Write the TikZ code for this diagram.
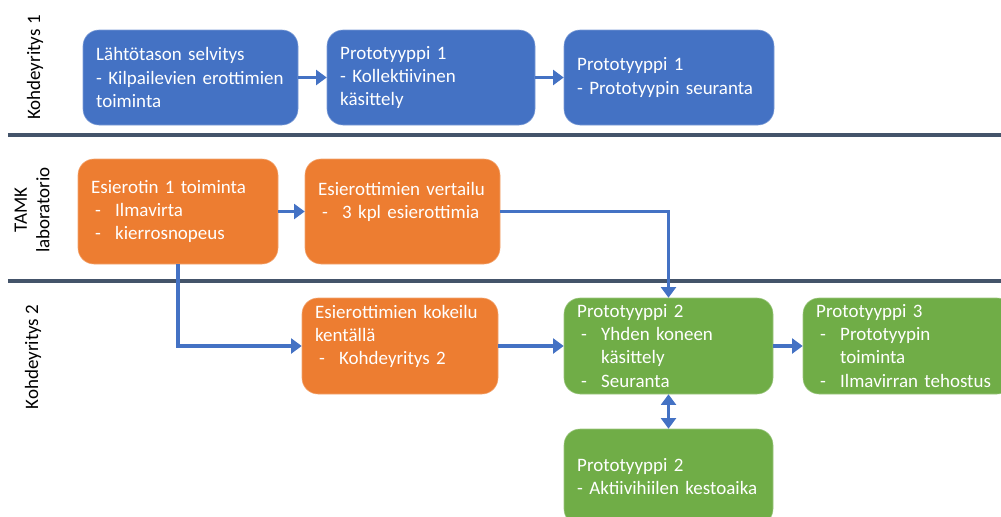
\documentclass[tikz,border=0pt]{standalone}
\usepackage{fontspec}
\setmainfont{Carlito}
\usetikzlibrary{arrows.meta}

\definecolor{officeblue}{HTML}{4472C4}
\definecolor{officeorange}{HTML}{ED7D31}
\definecolor{officegreen}{HTML}{70AD47}
\definecolor{slate}{HTML}{44546A}

\newcommand{\dashitem}{\makebox[0.6cm][l]{\hspace{0.1cm}-}}
\newcommand{\hang}{\hspace*{0.6cm}}

\tikzset{
  stage/.style={rounded corners=0.4cm, text=white, align=left, inner xsep=0.33cm, inner ysep=0pt,
    font=\fontsize{13.5}{16.4}\selectfont},
  bluestage/.style={stage, fill=officeblue, draw=officeblue!70!white},
  orangestage/.style={stage, fill=officeorange, draw=officeorange!70!white},
  greenstage/.style={stage, fill=officegreen, draw=officegreen!70!white},
  flow/.style={officeblue, line width=2.4pt, -{Triangle[length=7.5pt,width=10.5pt]}},
  lane/.style={slate, line width=2.4pt},
  lanelabel/.style={rotate=90, align=center, font=\fontsize{13.5}{16}\selectfont}
}

\begin{document}
\begin{tikzpicture}
  \useasboundingbox (0,0) rectangle (25.025,-12.9);

  % Lane labels and separators
  \node[lanelabel] (lane1) at (0.875,-1.69) {Kohdeyritys 1};
  \node[lanelabel] (lane2) at (0.8,-5.25) {TAMK\\laboratorio};
  \node[lanelabel] (lane3) at (0.825,-8.925) {Kohdeyritys 2};
  \draw[lane] (0.2,-3.375) -- (25.025,-3.375);
  \draw[lane] (0.2,-7.025) -- (25.025,-7.025);

  % Kohdeyritys 1
  \node[bluestage, text width=4.715cm, minimum height=2.375cm] (selvitys) at (4.7625,-1.9375)
    {Lähtötason selvitys\\- Kilpailevien erottimien\\toiminta};
  \node[bluestage, text width=4.54cm, minimum height=2.375cm] (protoa) at (10.775,-1.9375)
    {Prototyyppi 1\\- Kollektiivinen\\käsittely};
  \node[bluestage, text width=4.59cm, minimum height=2.375cm] (protob) at (16.725,-1.9375)
    {Prototyyppi 1\\- Prototyypin seuranta};

  % TAMK laboratorio
  \node[orangestage, text width=4.34cm, minimum height=2.625cm] (esierotin) at (4.45,-5.2875)
    {Esierotin 1 toiminta\\\dashitem Ilmavirta\\\dashitem kierrosnopeus};
  \node[orangestage, text width=4.215cm, minimum height=2.625cm] (vertailu) at (10.0625,-5.2875)
    {Esierottimien vertailu\\\dashitem 3 kpl esierottimia\\~};

  % Kohdeyritys 2
  \node[orangestage, text width=4.24cm, minimum height=2.4cm] (kokeilu) at (10.0,-8.65)
    {Esierottimien kokeilu\\kentällä\\\dashitem Kohdeyritys 2\\~};
  \node[greenstage, text width=4.565cm, minimum height=2.4cm] (proto2) at (16.7125,-8.65)
    {Prototyyppi 2\\\dashitem Yhden koneen\\\hang käsittely\\\dashitem Seuranta};
  \node[greenstage, text width=4.59cm, minimum height=2.4cm] (proto3) at (22.7,-8.65)
    {Prototyyppi 3\\\dashitem Prototyypin\\\hang toiminta\\\dashitem Ilmavirran tehostus};
  \node[greenstage, text width=4.565cm, minimum height=2.4cm] (proto2b) at (16.7125,-11.925)
    {Prototyyppi 2\\- Aktiivihiilen kestoaika};

  % Connectors
  \draw[flow] (selvitys) -- (protoa);
  \draw[flow] (protoa) -- (protob);
  \draw[flow] (esierotin) -- (vertailu);
  \draw[flow] (vertailu.east) -| (proto2.north);
  \draw[flow] (esierotin.south) |- (kokeilu.west);
  \draw[flow] (kokeilu) -- (proto2);
  \draw[flow] (proto2) -- (proto3);
  \draw[flow, {Triangle[length=7.5pt,width=10.5pt]}-{Triangle[length=7.5pt,width=10.5pt]}] (proto2) -- (proto2b);
\end{tikzpicture}
\end{document}
